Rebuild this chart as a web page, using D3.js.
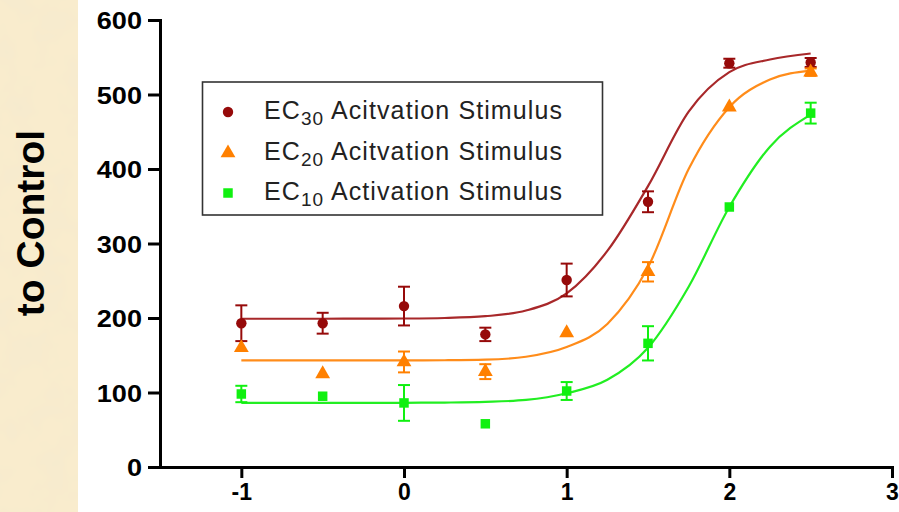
<!DOCTYPE html>
<html>
<head>
<meta charset="utf-8">
<script src="https://cdn.jsdelivr.net/npm/d3@7"></script>
<style>
  html, body { margin: 0; padding: 0; background: #ffffff; }
  svg { display: block; }
</style>
</head>
<body>
<script>
// ---------- data ----------
const xTicks = [-1, 0, 1, 2, 3];
const yTicks = [0, 100, 200, 300, 400, 500, 600];
const doses = [-1, -0.5, 0, 0.5, 1, 1.5, 2, 2.5];

const ec30 = [193, 193, 216, 178, 251, 356, 542, 543];
const ec30Err = [24, 14, 26, 9, 22, 14, 6, 6];
const ec20 = [160, 125, 141, 128, 180, 262, 483, 530];
const ec20Err = [0, 0, 14, 10, 0, 13, 0, 5];
const ec10 = [98, 95, 86, 58, 102, 166, 349, 475];
const ec10Err = [11, 0, 24, 0, 12, 23, 0, 14];

// fitted curves
const curveX = [-1, -0.75, -0.5, -0.25, 0, 0.25, 0.5, 0.75, 1, 1.25, 1.5, 1.75, 2, 2.25, 2.5];
const ec30Fit = [199, 199, 199, 199.1, 199.3, 200, 202.4, 210, 233, 290, 377, 477, 530, 547, 555];
const ec20Fit = [143, 143, 143, 143, 143.1, 143.3, 144, 148, 161, 192, 268, 400, 483, 520, 532];
const ec10Fit = [86, 86, 86, 86.1, 86.2, 86.5, 87.4, 90, 99, 117, 160, 242, 349, 430, 473];

const seriesNames = ["30", "20", "10"];
const seriesWords = [" Acitvation Stimulus", " Acitvation Stimulus", " Activation Stimulus"];
const yTitle = "to Control";

// ---------- styles ----------
const colors = ["#960a0a", "#ff8000", "#10f010"];
const lineColors = ["#a8282a", "#ff8c1a", "#22ee22"];
const shapes = ["circle", "triangle", "square"];

const W = 899, H = 512;
const svg = d3.select("body").append("svg").attr("width", W).attr("height", H);

const defs = svg.append("defs");
const f = defs.append("filter").attr("id", "parch").attr("x", 0).attr("y", 0).attr("width", 1).attr("height", 1);
f.append("feTurbulence").attr("type", "fractalNoise").attr("baseFrequency", "0.03").attr("numOctaves", 3).attr("seed", 7).attr("result", "n");
f.append("feColorMatrix").attr("in", "n").attr("type", "matrix")
  .attr("values", "0 0 0 0 0.91  0 0 0 0 0.82  0 0 0 0 0.62  0 0 0 1.5 -0.6");

// parchment strip on the left
svg.append("rect").attr("x", 0).attr("y", 0).attr("width", 78).attr("height", H).attr("fill", "#f9eccd");
svg.append("rect").attr("x", 0).attr("y", 0).attr("width", 78).attr("height", H).attr("filter", "url(#parch)");

const x = d3.scaleLinear().domain([-1.5, 3]).range([160, 892]);
const y = d3.scaleLinear().domain([0, 600]).range([467, 20]);

// y axis title
svg.append("text")
  .attr("transform", "translate(44,223) rotate(-90)")
  .attr("text-anchor", "middle")
  .attr("font-family", "Liberation Sans, Arial, sans-serif")
  .attr("font-weight", "bold")
  .attr("font-size", 39)
  .attr("fill", "#000")
  .text(yTitle);

// axes
const yAxis = svg.append("g").attr("transform", "translate(160,0)")
  .call(d3.axisLeft(y).tickValues(yTicks).tickSize(12).tickSizeOuter(0).tickPadding(5).tickFormat(d => String(d)));
const xAxis = svg.append("g").attr("transform", "translate(0,467)")
  .call(d3.axisBottom(x).tickValues(xTicks).tickSize(11).tickSizeOuter(0).tickPadding(6).tickFormat(d => String(d)));

[yAxis, xAxis].forEach(g => {
  g.select(".domain").attr("stroke", "#000").attr("stroke-width", 3).attr("stroke-linecap", "square");
  g.selectAll(".tick line").attr("stroke", "#000").attr("stroke-width", 3);
  g.selectAll(".tick text")
    .attr("font-family", "Liberation Sans, Arial, sans-serif")
    .attr("font-weight", "bold")
    .attr("font-size", 23)
    .attr("fill", "#000");
});
// y tick labels are drawn wider in the reference
yAxis.selectAll(".tick text")
  .attr("font-size", 24)
  .attr("dy", "0.36em")
  .attr("x", 0)
  .attr("transform", "translate(-18,0) scale(1.13,1)");

// curves
const line = d3.line().x(d => x(d[0])).y(d => y(d[1])).curve(d3.curveMonotoneX);
[ec30Fit, ec20Fit, ec10Fit].forEach((fit, i) => {
  svg.append("path")
    .datum(curveX.map((cx, j) => [cx, fit[j]]))
    .attr("fill", "none")
    .attr("stroke", lineColors[i])
    .attr("stroke-width", 2.2)
    .attr("d", line);
});

// markers
const sym = {
  circle: d3.symbol().type(d3.symbolCircle).size(85),
  triangle: d3.symbol().type(d3.symbolTriangle).size(95),
  square: d3.symbol().type(d3.symbolSquare).size(90)
};
const series = [[ec30, ec30Err], [ec20, ec20Err], [ec10, ec10Err]];
series.forEach(([vals, errs], i) => {
  const g = svg.append("g");
  doses.forEach((d, j) => {
    const cx = x(d);
    if (errs[j] > 0) {
      const y1 = y(vals[j] + errs[j]), y2 = y(vals[j] - errs[j]);
      g.append("line").attr("x1", cx).attr("x2", cx).attr("y1", y1).attr("y2", y2)
        .attr("stroke", colors[i]).attr("stroke-width", 2);
      [y1, y2].forEach(yy => g.append("line").attr("x1", cx - 6).attr("x2", cx + 6).attr("y1", yy).attr("y2", yy)
        .attr("stroke", colors[i]).attr("stroke-width", 2));
    }
    g.append("path").attr("d", sym[shapes[i]]())
      .attr("transform", `translate(${cx},${y(vals[j])})`)
      .attr("fill", colors[i]);
  });
});

// legend
const lg = svg.append("g");
lg.append("rect").attr("x", 202.5).attr("y", 82).attr("width", 400).attr("height", 133)
  .attr("fill", "#fff").attr("stroke", "#333").attr("stroke-width", 1.6);
const rowY = [110, 151, 191];
seriesNames.forEach((s, i) => {
  lg.append("path").attr("d", sym[shapes[i]]())
    .attr("transform", `translate(228,${rowY[i] + 2})`)
    .attr("fill", colors[i]);
  const t = lg.append("text")
    .attr("x", 264).attr("y", rowY[i] + 8.5)
    .attr("font-family", "Liberation Sans, Arial, sans-serif")
    .attr("font-size", 25)
    .attr("letter-spacing", "1.1px")
    .attr("fill", "#222");
  t.append("tspan").text("EC");
  t.append("tspan").attr("font-size", 19).attr("dy", 6).text(s);
  t.append("tspan").attr("dy", -6).text(seriesWords[i]);
});
</script>
</body>
</html>
